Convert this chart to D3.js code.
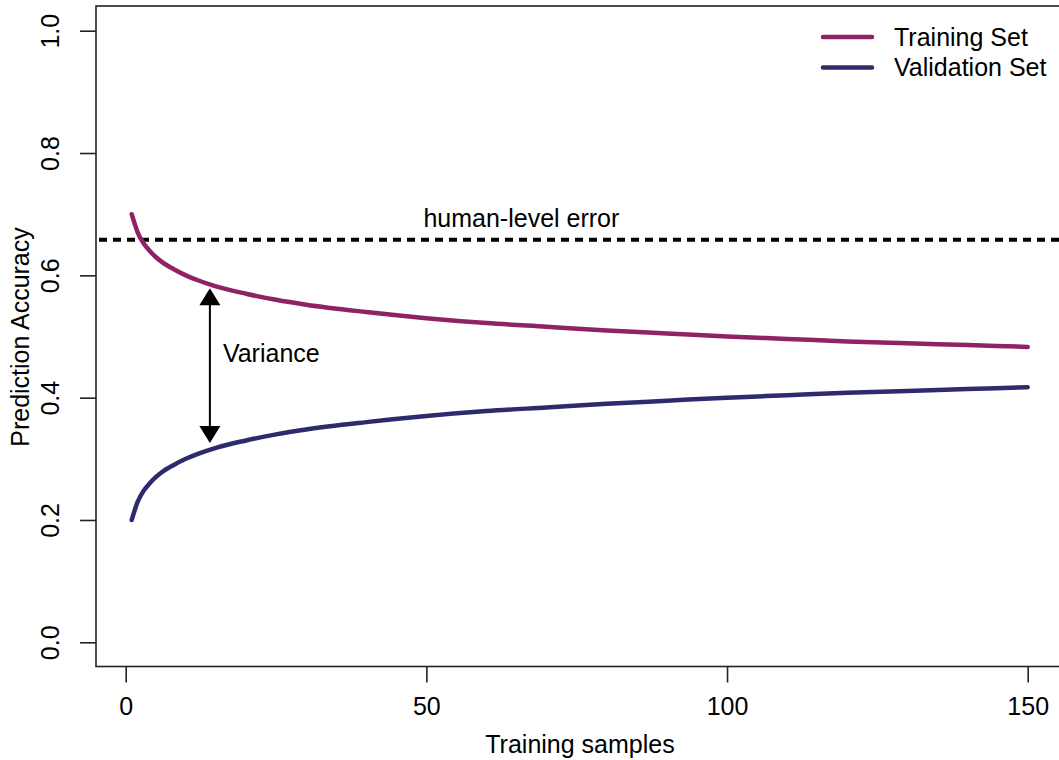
<!DOCTYPE html>
<html>
<head>
<meta charset="utf-8">
<script src="https://cdn.jsdelivr.net/npm/d3@7"></script>
<style>
  html, body { margin: 0; padding: 0; background: #fff; }
  svg text { font-family: "Liberation Sans", Arial, sans-serif; fill: #000; }
</style>
</head>
<body>
<svg id="chart" width="1059" height="760"></svg>
<script>
// ---- data ----
const samples = [1, 2, 3, 4, 5, 6, 8, 10, 12, 15, 20, 25, 30, 40, 50, 60, 70, 80, 90, 100, 110, 120, 130, 140, 150];
const trainingAcc = [0.700, 0.670, 0.652, 0.640, 0.630, 0.622, 0.610, 0.600, 0.592, 0.582, 0.570, 0.560, 0.552, 0.540, 0.530, 0.522, 0.516, 0.510, 0.505, 0.500, 0.496, 0.492, 0.489, 0.486, 0.483];
const validationAcc = [0.200, 0.230, 0.248, 0.260, 0.270, 0.278, 0.290, 0.300, 0.308, 0.318, 0.330, 0.340, 0.348, 0.360, 0.370, 0.378, 0.384, 0.390, 0.395, 0.400, 0.404, 0.408, 0.411, 0.414, 0.417];
const humanLevel = 0.658;
const varianceX = 14;
const varianceRange = [0.579, 0.326];
const xTicks = [0, 50, 100, 150];
const yTicks = [0.0, 0.2, 0.4, 0.6, 0.8, 1.0];
const seriesNames = ["Training Set", "Validation Set"];
const seriesColors = ["#8f2263", "#2d2b6d"];

const FS = 25;
const svg = d3.select("#chart");
const box = { left: 96, top: 6, right: 1062, bottom: 666.5 };

const x = d3.scaleLinear().domain([0, 150]).range([125.7, 1027.7]);
const y = d3.scaleLinear().domain([0, 1]).range([642.3, 30.7]);

// plot box
svg.append("rect")
  .attr("x", box.left).attr("y", box.top)
  .attr("width", box.right - box.left).attr("height", box.bottom - box.top)
  .attr("fill", "none").attr("stroke", "#222").attr("stroke-width", 1.6);

// y axis
const yAxis = d3.axisLeft(y).tickValues(yTicks).tickFormat(d3.format(".1f")).tickSize(16).tickSizeOuter(0);
const gy = svg.append("g").attr("transform", `translate(${box.left},0)`).call(yAxis);
gy.select(".domain").remove();
gy.selectAll(".tick line").attr("stroke", "#222").attr("stroke-width", 1.6);
gy.selectAll(".tick text")
  .attr("font-size", FS)
  .attr("x", null)
  .attr("text-anchor", "middle")
  .attr("transform", `translate(${50 - box.left},0) rotate(-90)`)
  .attr("dy", "0.35em");

// x axis
const xAxis = d3.axisBottom(x).tickValues(xTicks).tickFormat(d3.format("d")).tickSize(16).tickSizeOuter(0);
const gx = svg.append("g").attr("transform", `translate(0,${box.bottom})`).call(xAxis);
gx.select(".domain").remove();
gx.selectAll(".tick line").attr("stroke", "#222").attr("stroke-width", 1.6);
gx.selectAll(".tick text").attr("font-size", FS).attr("y", 48).attr("dy", "0");

// axis titles
svg.append("text").attr("x", 580).attr("y", 753).attr("text-anchor", "middle")
  .attr("font-size", FS).text("Training samples");
svg.append("text").attr("transform", "translate(29,337) rotate(-90)").attr("text-anchor", "middle")
  .attr("font-size", FS).text("Prediction Accuracy");

// human-level error line
svg.append("line")
  .attr("x1", box.left + 3).attr("x2", 1059)
  .attr("y1", y(humanLevel)).attr("y2", y(humanLevel))
  .attr("stroke", "#000").attr("stroke-width", 4).attr("stroke-dasharray", "8,6");
svg.append("text").attr("x", x(65.8)).attr("y", y(humanLevel) - 13)
  .attr("text-anchor", "middle").attr("font-size", FS).text("human-level error");

// curves
const line = d3.line().x(d => x(d[0])).y(d => y(d[1])).curve(d3.curveMonotoneX);
[trainingAcc, validationAcc].forEach((vals, i) => {
  svg.append("path")
    .datum(samples.map((s, j) => [s, vals[j]]))
    .attr("d", line)
    .attr("fill", "none").attr("stroke", seriesColors[i])
    .attr("stroke-width", 4.5).attr("stroke-linecap", "round");
});

// variance arrow
const ax = x(varianceX);
const yTop = y(varianceRange[0]), yBot = y(varianceRange[1]);
const headH = 17, headW = 10.5;
svg.append("line").attr("x1", ax).attr("x2", ax).attr("y1", yTop + headH - 2).attr("y2", yBot - headH + 2)
  .attr("stroke", "#000").attr("stroke-width", 2);
svg.append("path").attr("d", `M${ax},${yTop} L${ax - headW},${yTop + headH} L${ax + headW},${yTop + headH} Z`).attr("fill", "#000");
svg.append("path").attr("d", `M${ax},${yBot} L${ax - headW},${yBot - headH} L${ax + headW},${yBot - headH} Z`).attr("fill", "#000");
svg.append("text").attr("x", ax + 13).attr("y", 353).attr("dy", "0.35em")
  .attr("font-size", FS).text("Variance");

// legend
const legend = svg.append("g");
seriesNames.forEach((name, i) => {
  const ly = 37 + i * 30.5;
  legend.append("line").attr("x1", 823).attr("x2", 872).attr("y1", ly).attr("y2", ly)
    .attr("stroke", seriesColors[i]).attr("stroke-width", 4.5).attr("stroke-linecap", "round");
  legend.append("text").attr("x", 894).attr("y", ly).attr("dy", "0.35em")
    .attr("font-size", FS).text(name);
});
</script>
</body>
</html>
